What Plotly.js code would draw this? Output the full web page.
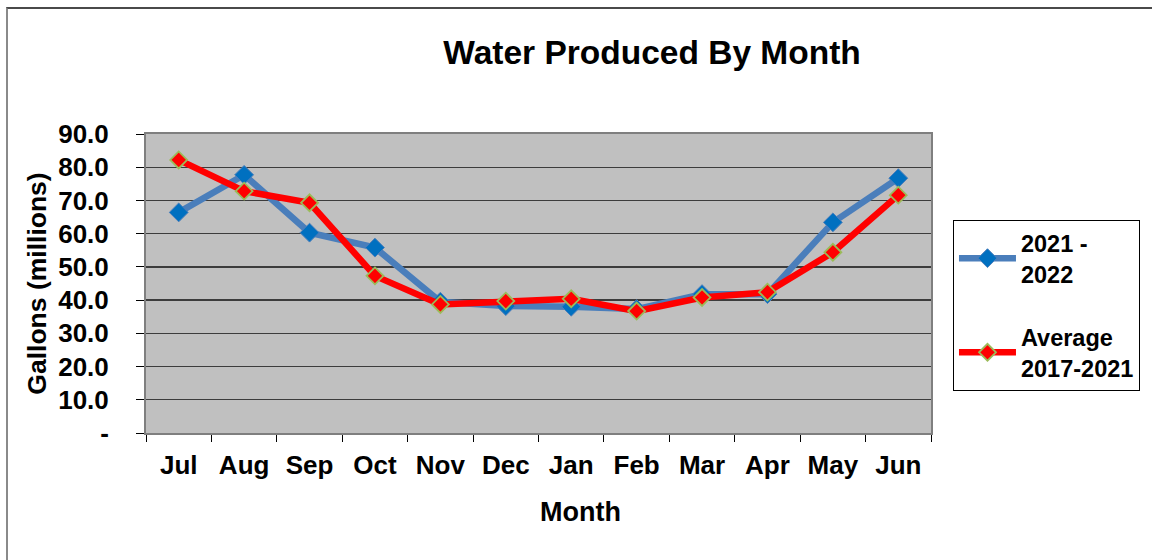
<!DOCTYPE html>
<html>
<head>
<meta charset="utf-8">
<script src="https://cdn.plot.ly/plotly-3.0.1.min.js"></script>
<style>
  html, body { margin: 0; padding: 0; background: #ffffff; overflow: hidden; }
  #chart { width: 1152px; height: 560px; }
  #frame { position: absolute; left: 6px; top: 7px; width: 1200px; height: 600px;
           border-top: 2px solid #4a4a4a; border-left: 2px solid #8a8a8a; pointer-events: none; }
</style>
</head>
<body>
<div id="chart"></div>
<div id="frame"></div>
<script>
const months = ["Jul", "Aug", "Sep", "Oct", "Nov", "Dec", "Jan", "Feb", "Mar", "Apr", "May", "Jun"];
const current = [66.4, 77.7, 60.3, 55.8, 39.5, 38.2, 38.0, 37.3, 41.8, 41.8, 63.4, 76.7];
const average = [82.2, 72.8, 69.3, 47.3, 38.7, 39.7, 40.4, 36.7, 40.8, 42.4, 54.4, 71.6];
const yTickVals = [0, 10, 20, 30, 40, 50, 60, 70, 80, 90];
const yTickText = ["-", "10.0", "20.0", "30.0", "40.0", "50.0", "60.0", "70.0", "80.0", "90.0"];
const seriesNames = ["2021 -<br>2022", "Average<br>2017-2021"];

const FONT = "Liberation Sans, Arial, sans-serif";

const traces = [
  {
    x: months, y: current, name: seriesNames[0], type: "scatter", mode: "lines+markers",
    legendgroup: "a",
    line: { color: "#4a7ebb", width: 6.5 },
    marker: { symbol: "diamond", size: 14.5, color: "#0070c0", line: { color: "#4a7ebb", width: 1 } }
  },
  {
    x: months, y: average, name: seriesNames[1], type: "scatter", mode: "lines+markers",
    legendgroup: "b",
    line: { color: "#ff0000", width: 6.5 },
    marker: { symbol: "diamond", size: 13, color: "#ff0000", line: { color: "#9bbb59", width: 1.8 } }
  }
];

const layout = {
  width: 1152, height: 560,
  margin: { l: 146, r: 219, t: 134, b: 127, pad: 0 },
  paper_bgcolor: "rgba(0,0,0,0)",
  plot_bgcolor: "#c0c0c0",
  font: { family: FONT, color: "#000000" },
  title: {
    text: "<b>Water Produced By Month</b>",
    font: { family: FONT, size: 33.5, color: "#000000" },
    x: 0.566, xanchor: "center", xref: "container",
    y: 0.907, yanchor: "middle", yref: "container"
  },
  xaxis: {
    type: "category",
    range: [-0.5, 11.5],
    autorange: false,
    tickson: "boundaries",
    ticks: "outside", ticklen: 7, tickcolor: "#000000", tickwidth: 1,
    ticklabelstandoff: 8,
    tickfont: { family: FONT, size: 26, color: "#000000", weight: "bold" },
    showgrid: false,
    showline: true, linecolor: "#7f7f7f", linewidth: 2, mirror: true,
    zeroline: false,
    fixedrange: true
  },
  yaxis: {
    range: [0, 90],
    autorange: false,
    tickvals: yTickVals, ticktext: yTickText,
    ticks: "outside", ticklen: 8, tickcolor: "#000000", tickwidth: 1,
    ticklabelstandoff: 22,
    tickfont: { family: FONT, size: 26, color: "#000000", weight: "bold" },
    showgrid: true, gridcolor: "#3c3c3c", gridwidth: 1.3,
    showline: true, linecolor: "#7f7f7f", linewidth: 2, mirror: true,
    zeroline: false,
    title: { text: "<b>Gallons (millions)</b>", font: { family: FONT, size: 26.5, color: "#000000" }, standoff: 4 },
    fixedrange: true
  },
  annotations: [
    {
      text: "<b>Month</b>", xref: "paper", yref: "paper",
      x: 0.553, y: -0.265, xanchor: "center", yanchor: "middle",
      showarrow: false, font: { family: FONT, size: 27, color: "#000000" }
    }
  ],
  showlegend: true,
  legend: {
    x: 1.028, xanchor: "left", y: 0.712, yanchor: "top",
    bgcolor: "#ffffff", bordercolor: "#000000", borderwidth: 1,
    font: { family: FONT, size: 23.5, color: "#000000", weight: "bold" },
    traceorder: "grouped", tracegroupgap: 30,
    itemwidth: 57, valign: "middle"
  }
};

Plotly.newPlot("chart", traces, layout, { displayModeBar: false, staticPlot: true });
</script>
</body>
</html>
